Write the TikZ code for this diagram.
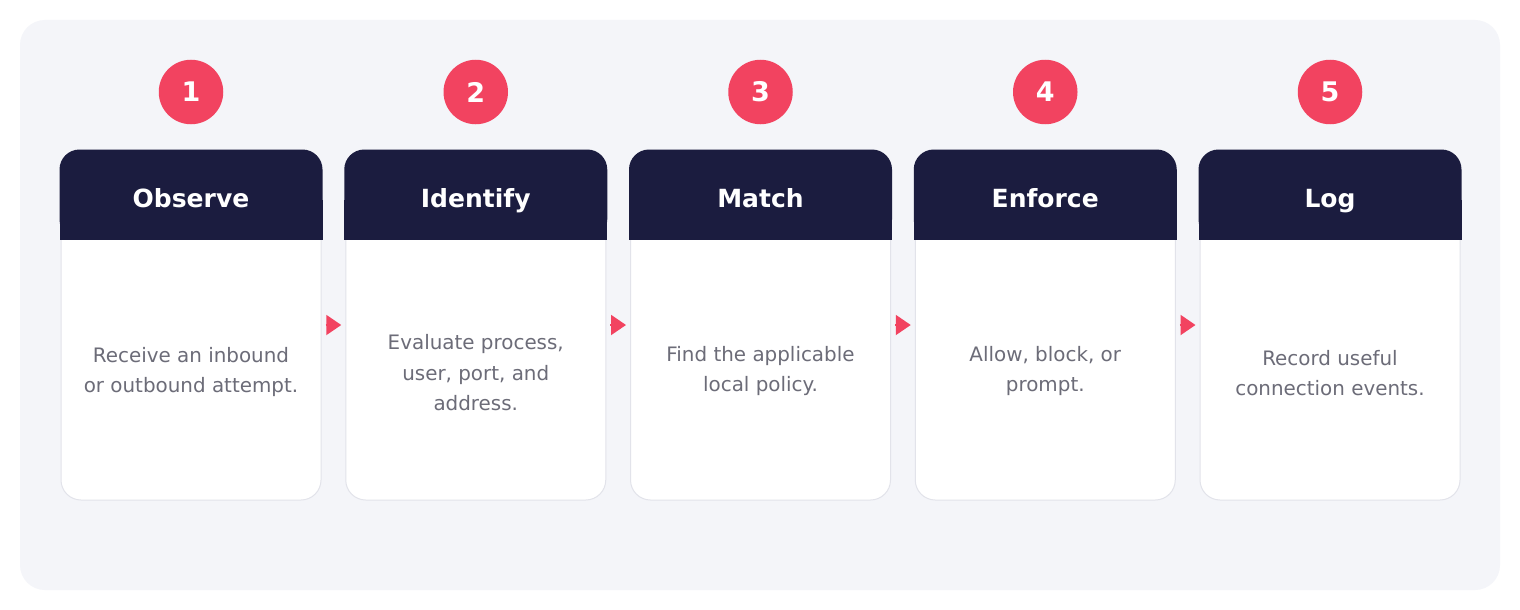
\documentclass[tikz,border=0pt]{standalone}
\usepackage{fontspec}
\setmainfont{DejaVu Sans}
\usetikzlibrary{arrows.meta}
\definecolor{panel}{RGB}{244,245,249}
\definecolor{navy}{RGB}{27,28,63}
\definecolor{rosered}{RGB}{242,67,96}
\definecolor{textgray}{RGB}{108,108,120}
\definecolor{rimgray}{RGB}{226,227,234}
\tikzset{
  badge/.style={circle,fill=rosered,text=white,minimum size=64.5pt,inner sep=0pt,font=\fontsize{27}{27}\bfseries\selectfont},
  card/.style={rectangle,fill=white,draw=rimgray,line width=1pt,rounded corners=20pt,minimum width=260pt,minimum height=350pt,inner sep=0pt},
  cardhead/.style={fill=navy},
  cardtitle/.style={anchor=base,text=white,inner sep=0pt,font=\fontsize{25}{25}\bfseries\selectfont},
  carddesc/.style={text=textgray,align=center,inner sep=0pt,font=\fontsize{19.9}{30.5}\selectfont},
  flow/.style={rosered,line width=2pt,shorten <=4pt,shorten >=4pt,-{Triangle[length=15pt,width=20pt]}}
}

\begin{document}
\begin{tikzpicture}[x=1pt,y=-1pt]
                    \useasboundingbox[fill=white] (0,0) rectangle (1520,610);
                    \fill[panel,rounded corners=25pt] (20,20) rectangle (1500,590);

                    % step badges
                    \node[badge] (n1) at (191,92) {1};
                    \node[badge] (n2) at (475.75,92) {2};
                    \node[badge] (n3) at (760.5,92) {3};
                    \node[badge] (n4) at (1045.25,92) {4};
                    \node[badge] (n5) at (1330,92) {5};

                    % card bodies
                    \node[card] (c1) at (191,325) {};
                    \node[card] (c2) at (475.75,325) {};
                    \node[card] (c3) at (760.5,325) {};
                    \node[card] (c4) at (1045.25,325) {};
                    \node[card] (c5) at (1330,325) {};

                    % card headers
                    \foreach \c in {c1,c2,c3,c4,c5}{
                      \fill[cardhead,rounded corners=20pt] ([xshift=-1pt]\c.north west) rectangle ([xshift=1pt,yshift=-90pt]\c.north east);
                      \fill[cardhead] ([xshift=-1pt,yshift=-50pt]\c.north west) rectangle ([xshift=1pt,yshift=-90pt]\c.north east);
                    }

                    \node[cardtitle] (h1) at (191,207.5) {Observe};
                    \node[cardtitle] (h2) at (475.75,207.5) {Identify};
                    \node[cardtitle] (h3) at (760.5,207.5) {Match};
                    \node[cardtitle] (h4) at (1045.25,207.5) {Enforce};
                    \node[cardtitle] (h5) at (1330,207.5) {Log};

                    \node[carddesc] (d1) at (191,372) {Receive an inbound\\or outbound attempt.};
                    \node[carddesc] (d2) at (475.75,373) {Evaluate process,\\user, port, and\\address.};
                    \node[carddesc] (d3) at (760.5,371) {Find the applicable\\local policy.};
                    \node[carddesc] (d4) at (1045.25,371) {Allow, block, or\\prompt.};
                    \node[carddesc] (d5) at (1330,373) {Record useful\\connection events.};

                    % flow between cards
                    \draw[flow] (c1.east) -- (c2.west);
                    \draw[flow] (c2.east) -- (c3.west);
                    \draw[flow] (c3.east) -- (c4.west);
                    \draw[flow] (c4.east) -- (c5.west);
\end{tikzpicture}
\end{document}
